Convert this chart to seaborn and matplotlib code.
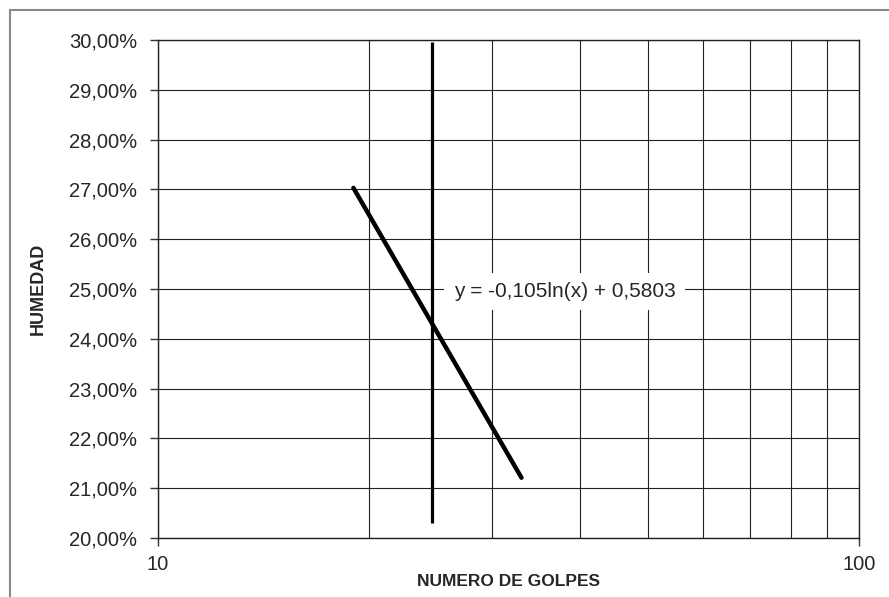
import pandas as pd
import matplotlib
import matplotlib.pyplot as plt
import seaborn as sns
from matplotlib.ticker import FixedLocator, FuncFormatter, NullLocator
from matplotlib.patches import Rectangle

matplotlib.use('agg')
sns.set_style('white')
plt.rcParams['font.family'] = ['Liberation Sans', 'DejaVu Sans']

# Trendline (logarithmic)
golpes_trend = [19, 33]
humedad_trend = [0.2703, 0.2121]

# Vertical line at 25 blows (as drawn)
golpes_25 = [24.6, 24.6]
humedad_25 = [0.203, 0.2995]

# Axis ticks
y_ticks = [0.20, 0.21, 0.22, 0.23, 0.24, 0.25, 0.26, 0.27, 0.28, 0.29, 0.30]
x_grid = [10, 20, 30, 40, 50, 60, 70, 80, 90, 100]
x_labels = [10, 100]

ecuacion = 'y = -0,105ln(x) + 0,5803'

df_trend = pd.DataFrame({'golpes': golpes_trend, 'humedad': humedad_trend})
df_25 = pd.DataFrame({'golpes': golpes_25, 'humedad': humedad_25})

fig = plt.figure(figsize=(8.89, 5.97), dpi=100)
ax = fig.add_axes([158 / 889, 1 - 538 / 597, 701 / 889, 498 / 597])

# Outer frame (only left/top visible in the picture)
fig.patches.append(Rectangle((10 / 889, -0.1), 1.2, 1 - 10 / 597 + 0.1,
                             transform=fig.transFigure, fill=False,
                             edgecolor='#8a8a8a', linewidth=1.5))

ax.set_xscale('log')
ax.set_xlim(10, 100)
ax.set_ylim(0.20, 0.30)

# Grid
for xv in x_grid:
    ax.axvline(xv, color='#222222', linewidth=0.8, zorder=1)
for yv in y_ticks:
    ax.axhline(yv, color='#222222', linewidth=0.8, zorder=1)

sns.lineplot(data=df_25, x='golpes', y='humedad', ax=ax, color='black',
             linewidth=2.3, zorder=3, estimator=None, sort=False,
             solid_capstyle='butt')
sns.lineplot(data=df_trend, x='golpes', y='humedad', ax=ax, color='black',
             linewidth=3.2, zorder=4, estimator=None, sort=False,
             solid_capstyle='round')

ax.text(38, 0.2495, ecuacion, ha='center', va='center', fontsize=15,
        zorder=5, bbox=dict(boxstyle='square,pad=0.45', facecolor='white',
                            edgecolor='none'))

ax.xaxis.set_major_locator(FixedLocator(x_labels))
ax.xaxis.set_minor_locator(NullLocator())
ax.xaxis.set_major_formatter(FuncFormatter(lambda v, p: f'{v:.0f}'))
ax.yaxis.set_major_locator(FixedLocator(y_ticks))
ax.yaxis.set_major_formatter(
    FuncFormatter(lambda v, p: f'{v * 100:.2f}%'.replace('.', ',')))

ax.tick_params(axis='y', which='major', length=6, width=1, color='#333333',
               direction='out', labelsize=14.5, pad=9, left=True)
ax.tick_params(axis='x', which='major', length=6, width=1, color='#333333',
               direction='out', labelsize=14.5, pad=6, bottom=True)

for s in ['left', 'bottom', 'top', 'right']:
    ax.spines[s].set_color('#222222')
    ax.spines[s].set_linewidth(1)

ax.set_xlabel('NUMERO DE GOLPES', fontsize=12.5, fontweight='bold', labelpad=0)
ax.set_ylabel('HUMEDAD', fontsize=13, fontweight='bold', labelpad=16)

plt.savefig('out.png', dpi=100)
plt.close()
